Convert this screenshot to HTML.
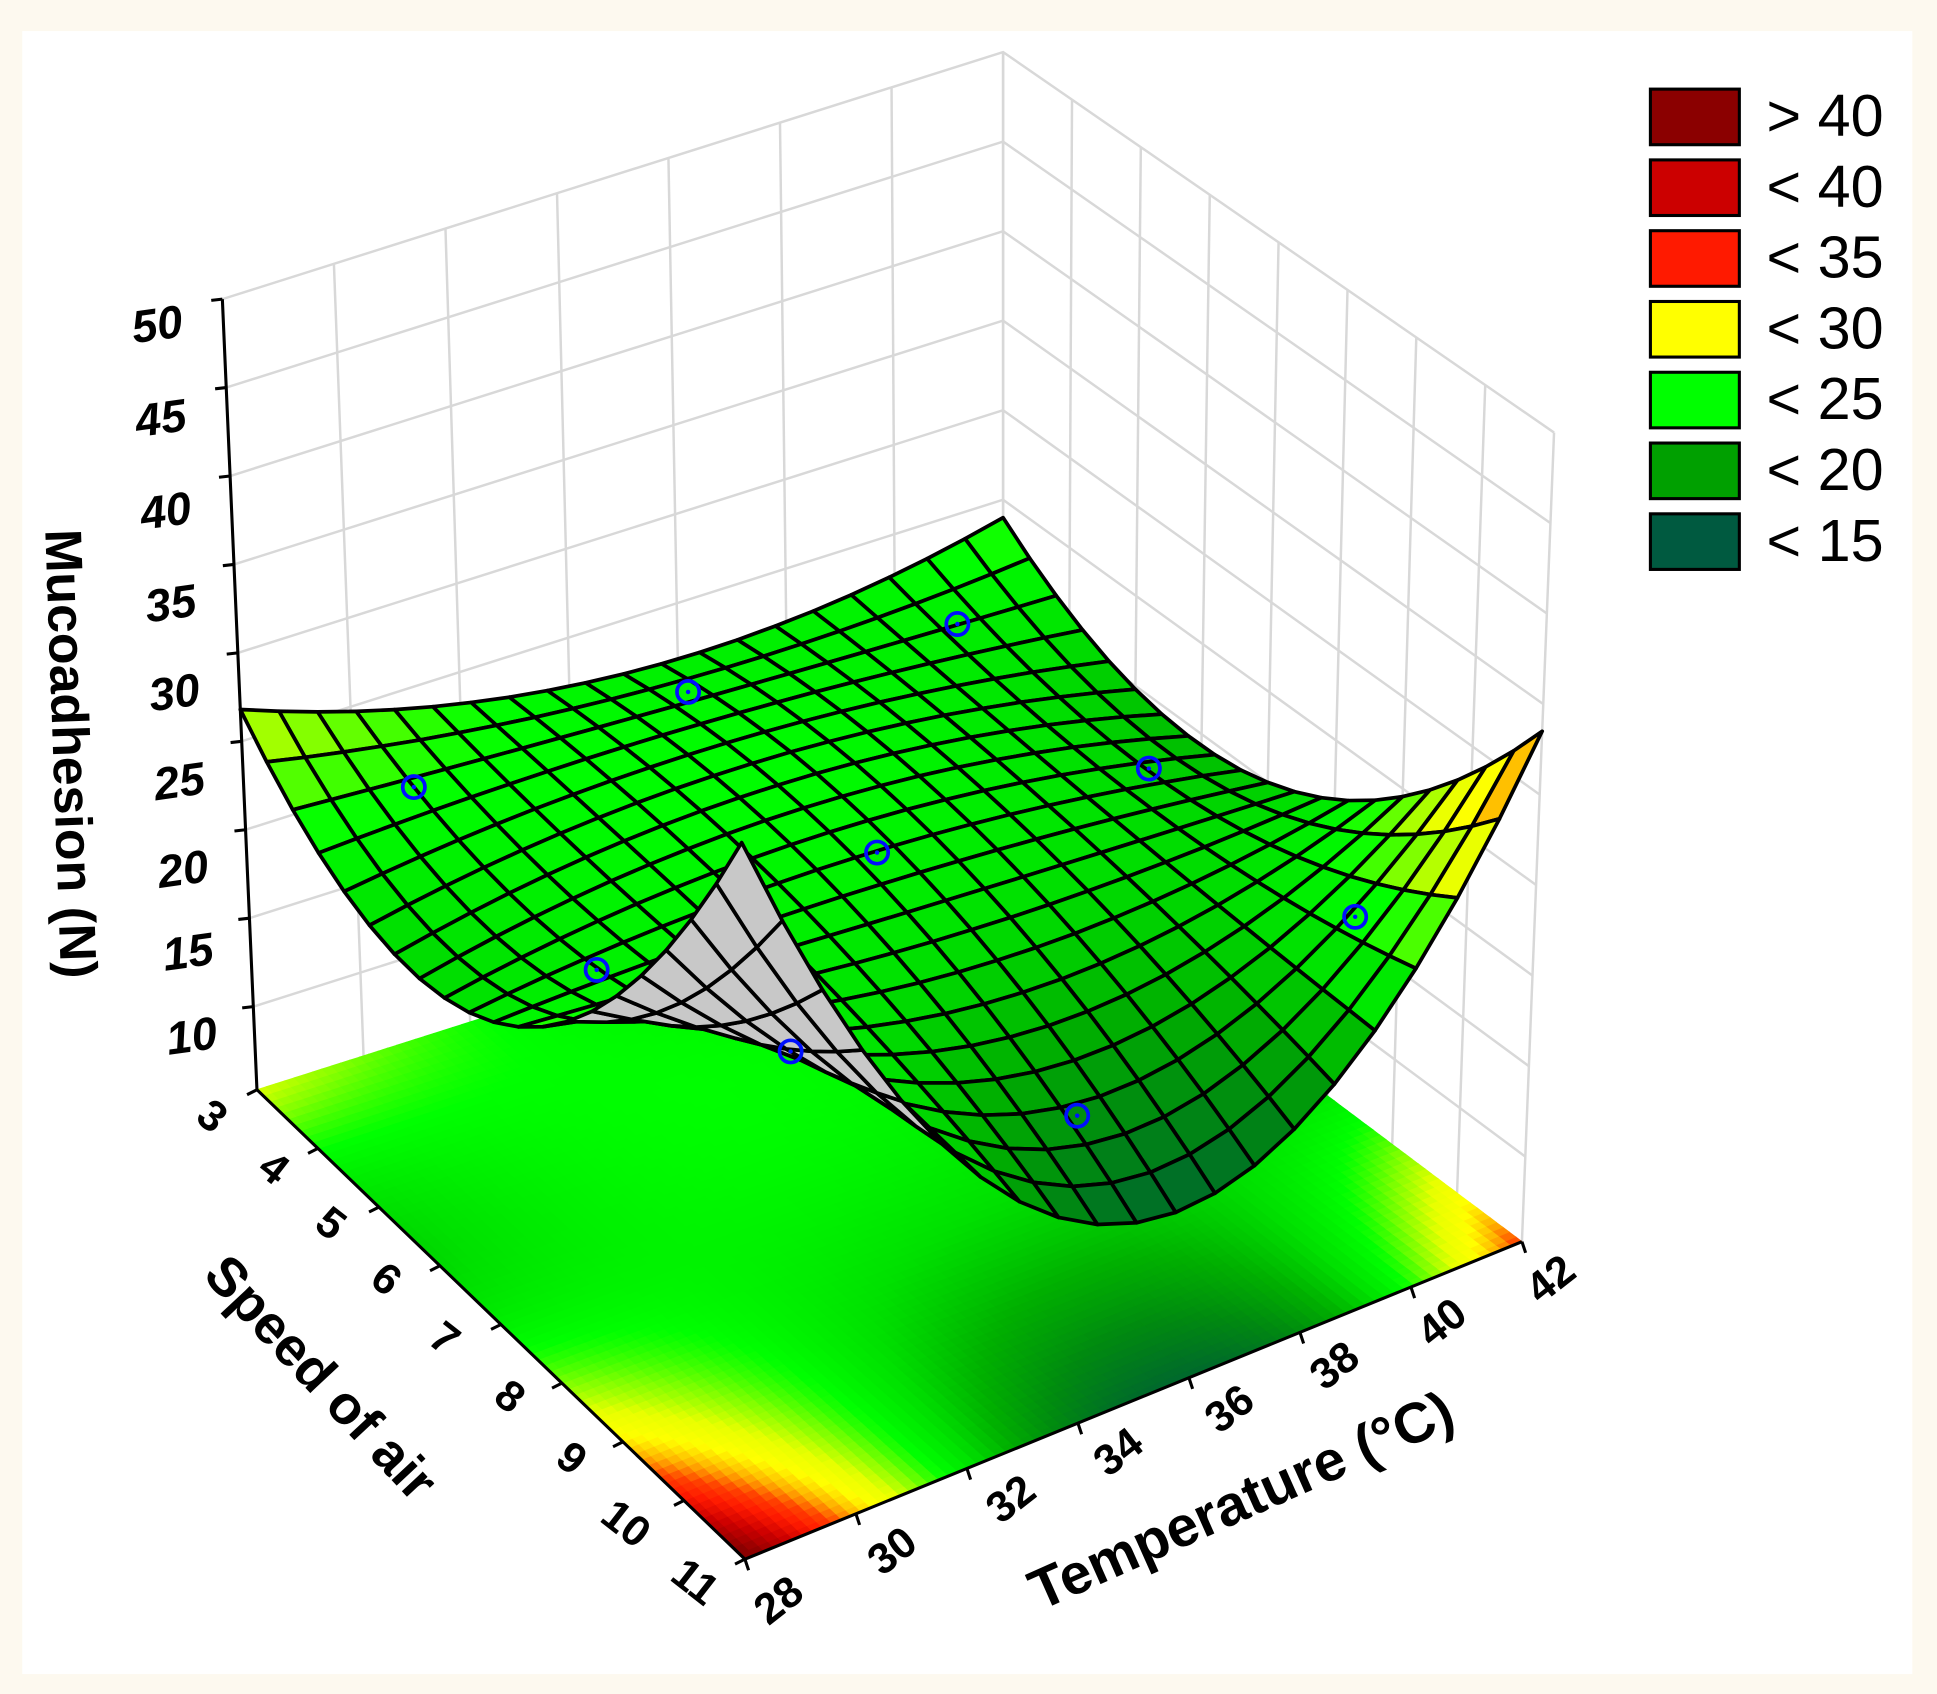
<!DOCTYPE html>
<html><head><meta charset="utf-8"><style>
html,body{margin:0;padding:0;background:#fdf9ef;}
svg{display:block;}
text{font-family:"Liberation Sans",Arial,sans-serif;}
</style></head><body>
<svg id="s" width="1937" height="1694" viewBox="0 0 1568 1371" xmlns="http://www.w3.org/2000/svg">
<rect x="0" y="0" width="1568" height="1371" fill="#fdf9ef"/>
<rect x="18" y="25" width="1530" height="1330" fill="#ffffff"/>
<g id="walls"></g>
<g id="floor"></g>
<g id="axes"></g>
<g id="surf"></g>
<g id="pts"></g>
<g id="lab"></g>
</svg>
<script>
var NS="http://www.w3.org/2000/svg";
var ZMIN=5.3,ZMAX=50;
var F=[603,1262],R=[1232,1005],L=[208,882],B=[812,690];
var Ft=[600,592],Rt=[1258,350],Lt=[180,242],Bt=[812,42];
function bil(p00,p10,p01,p11,a,b){return[(1-a)*(1-b)*p00[0]+a*(1-b)*p10[0]+(1-a)*b*p01[0]+a*b*p11[0],(1-a)*(1-b)*p00[1]+a*(1-b)*p10[1]+(1-a)*b*p01[1]+a*b*p11[1]];}
function P(a,b,z){var f=bil(F,R,L,B,a,b),t=bil(Ft,Rt,Lt,Bt,a,b),k=(z-ZMIN)/(ZMAX-ZMIN);return[f[0]+(t[0]-f[0])*k,f[1]+(t[1]-f[1])*k];}
function Z(a,b){var u=2*a-1,v=1-2*b;return 22-u-3.5*v-u*u-3.5*v*v-1.925*u*v+10.175*u*u*v+14.575*u*u*v*v-2.325*u*v*v;}
var stops=[[13,[0,90,70]],[15,[0,107,42]],[17,[0,138,16]],[19,[0,176,0]],[21,[0,224,0]],[23,[0,255,0]],[25,[128,255,0]],[27,[232,255,0]],[29,[255,255,0]],[31,[255,176,0]],[33,[255,64,0]],[35,[255,26,0]],[38,[204,0,0]],[42,[139,0,0]]];
function col(z){if(z<=stops[0][0])return c2s(stops[0][1]);for(var i=1;i<stops.length;i++){if(z<=stops[i][0]){var t=(z-stops[i-1][0])/(stops[i][0]-stops[i-1][0]);var A=stops[i-1][1],C=stops[i][1];return c2s([A[0]+(C[0]-A[0])*t,A[1]+(C[1]-A[1])*t,A[2]+(C[2]-A[2])*t]);}}return c2s(stops[stops.length-1][1]);}
function c2s(c){return"rgb("+Math.round(c[0])+","+Math.round(c[1])+","+Math.round(c[2])+")";}
function el(p,tag,at,txt){var e=document.createElementNS(NS,tag);for(var k in at)e.setAttribute(k,at[k]);if(txt!==undefined)e.textContent=txt;document.getElementById(p).appendChild(e);return e;}
function pts(arr){return arr.map(function(p){return p[0].toFixed(1)+","+p[1].toFixed(1);}).join(" ");}
var gc="#d8d8d8";
for(var k=0;k<=7;k++){var a=k/7;el("walls","polyline",{points:pts([P(a,1,ZMIN),P(a,1,50)]),stroke:gc,"stroke-width":2,fill:"none"});}
for(var k=0;k<=8;k++){var b=k/8;el("walls","polyline",{points:pts([P(1,b,ZMIN),P(1,b,50)]),stroke:gc,"stroke-width":2,fill:"none"});}
for(var z=10;z<=50;z+=5){el("walls","polyline",{points:pts([P(0,1,z),P(1,1,z),P(1,0,z)]),stroke:gc,"stroke-width":2,fill:"none"});}
var N=80;
for(var i=0;i<N;i++)for(var j=0;j<N;j++){var a0=i/N,a1=(i+1)/N,b0=j/N,b1=(j+1)/N;var c=col(Z((a0+a1)/2,(b0+b1)/2));
el("floor","polygon",{points:pts([P(a0,b0,ZMIN),P(a1,b0,ZMIN),P(a1,b1,ZMIN),P(a0,b1,ZMIN)]),fill:c,stroke:c,"stroke-width":0.8});}
el("axes","polyline",{points:pts([P(0,1,50),P(0,1,ZMIN),P(0,0,ZMIN),P(1,0,ZMIN)]),stroke:"#000","stroke-width":2.5,fill:"none"});
for(var z=10;z<=50;z+=5){var p=P(0,1,z);el("axes","line",{x1:p[0],y1:p[1],x2:p[0]-9,y2:p[1]+1,stroke:"#000","stroke-width":2.5});}
for(var s=3;s<=11;s++){var b=(11-s)/8;var p=P(0,b,ZMIN);el("axes","line",{x1:p[0],y1:p[1],x2:p[0]-8,y2:p[1]+4,stroke:"#000","stroke-width":2.5});}
for(var t=28;t<=42;t+=2){var a=(t-28)/14;var p=P(a,0,ZMIN);el("axes","line",{x1:p[0],y1:p[1],x2:p[0]+3,y2:p[1]+9,stroke:"#000","stroke-width":2.5});}
var M=20,quads=[];
function area(q){var s=0;for(var i=0;i<q.length;i++){var a=q[i],b=q[(i+1)%q.length];s+=a[0]*b[1]-b[0]*a[1];}return s;}
var ref=area([P(0,0,ZMIN),P(1,0,ZMIN),P(1,1,ZMIN),P(0,1,ZMIN)]);
for(var i=0;i<M;i++)for(var j=0;j<M;j++){var a0=i/M,a1=(i+1)/M,b0=j/M,b1=(j+1)/M;
var q=[P(a0,b0,Z(a0,b0)),P(a1,b0,Z(a1,b0)),P(a1,b1,Z(a1,b1)),P(a0,b1,Z(a0,b1))];
var zc=(Z(a0,b0)+Z(a1,b0)+Z(a1,b1)+Z(a0,b1))/4;
var front=area(q)*ref>0;
quads.push({q:q,d:(a0+a1)/2+(b0+b1)/2,c:front?col(zc):"#c8c8c8"});}
quads.sort(function(x,y){return y.d-x.d;});
quads.forEach(function(o){el("surf","polygon",{points:pts(o.q),fill:o.c,stroke:"#000","stroke-width":3,"stroke-linejoin":"round"});});
[[335,637],[557,560],[775,505],[483,785],[710,690],[930,622],[640,851],[872,903],[1097,742]].forEach(function(p){
el("pts","circle",{cx:p[0],cy:p[1],r:9,fill:"none",stroke:"#0010ff","stroke-width":3});
el("pts","circle",{cx:p[0],cy:p[1],r:1.8,fill:"#0010ff"});});
var zl=[[50,127,262],[45,130,338],[40,134,413],[35,138,488],[30,141,560],[25,145,632],[20,148,703],[15,152,770],[10,155,838]];
zl.forEach(function(l){el("lab","text",{x:l[1],y:l[2]+13,"font-size":37,"font-weight":"bold","font-style":"italic","text-anchor":"middle",transform:"rotate(-8 "+l[1]+" "+l[2]+")"},String(l[0]));});
var sl=[[3,172,903],[4,222,945],[5,268,990],[6,313,1035],[7,360,1083],[8,413,1130],[9,463,1180],[10,507,1233],[11,563,1280]];
sl.forEach(function(l){el("lab","text",{x:l[1],y:l[2]+12,"font-size":35,"font-weight":"bold","text-anchor":"middle",transform:"rotate(38 "+l[1]+" "+l[2]+")"},String(l[0]));});
var tl=[[28,630,1295],[30,722,1255],[32,818,1213],[34,905,1175],[36,995,1140],[38,1080,1105],[40,1167,1070],[42,1255,1035]];
tl.forEach(function(l){el("lab","text",{x:l[1],y:l[2]+12,"font-size":35,"font-weight":"bold","text-anchor":"middle",transform:"rotate(-38 "+l[1]+" "+l[2]+")"},String(l[0]));});
el("lab","text",{x:1005,y:1230,"font-size":46,"font-weight":"bold","text-anchor":"middle",transform:"rotate(-24 1005 1215)"},"Temperature (°C)");
el("lab","text",{x:260,y:1130,"font-size":44,"font-weight":"bold","text-anchor":"middle",transform:"rotate(47 260 1115)"},"Speed of air");
el("lab","text",{x:58,y:610,"font-size":42,"font-weight":"bold","text-anchor":"middle",transform:"rotate(88 58 610) translate(0 15)"},"Mucoadhesion (N)");
var lg=[["> 40","#8b0000"],["< 40","#cc0000"],["< 35","#ff1a00"],["< 30","#ffff00"],["< 25","#00ff00"],["< 20","#00a000"],["< 15","#005a40"]];
lg.forEach(function(l,i){var y=72+i*57.3;el("lab","rect",{x:1336,y:y,width:72,height:45,fill:l[1],stroke:"#000","stroke-width":2.5});
el("lab","text",{x:1430,y:y+38,"font-size":48},l[0]);});
</script>
</body></html>
